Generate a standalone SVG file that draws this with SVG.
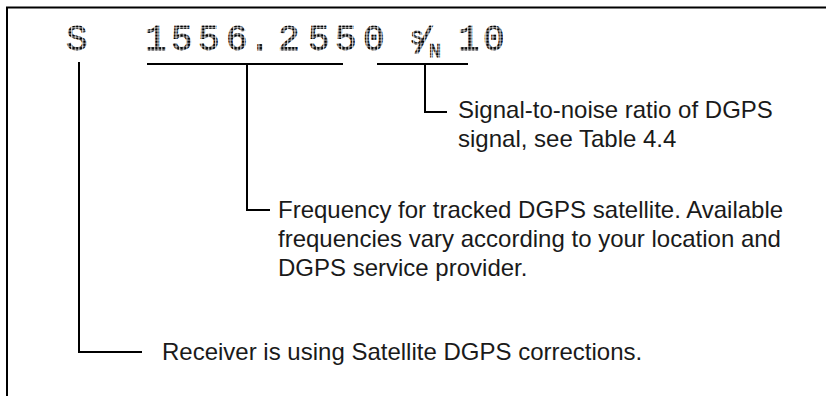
<svg xmlns="http://www.w3.org/2000/svg" width="826" height="396" viewBox="0 0 826 396">
  <defs>
    <!-- dot grid used to give the display readout its LCD dot-matrix look -->
    <pattern id="dots" patternUnits="userSpaceOnUse" width="3.6" height="3.1">
      <rect x="0.3" y="0.3" width="2.6" height="2.4" fill="#000"/>
    </pattern>
  </defs>
  <style>
    .frame { fill: none; stroke: #000; stroke-width: 2; }
    .lcd { font-family: "Liberation Mono", "DejaVu Sans Mono", monospace; font-size: 36px; fill: url(#dots); stroke: url(#dots); stroke-width: 0.8; }
    .lead { fill: none; stroke: #000; stroke-width: 2; }
    .note { font-family: "Liberation Sans", Arial, sans-serif; font-size: 24px; fill: #1a1a1a; }
  </style>

  <rect width="826" height="396" fill="#fff"/>
  <path class="frame" d="M7,396 V7.5 H826"/>

  <!-- receiver display readout -->
  <g id="readout">
    <text class="lcd" x="66" y="50">S</text>
    <text class="lcd" x="145 171 198 226 249 278 308 335 363" y="50">1556.2550</text>
    <text id="snr-symbol" class="lcd"><tspan x="411" y="44" font-size="20">S</tspan><tspan x="413" y="53">/</tspan><tspan x="429" y="57" font-size="20">N</tspan></text>
    <text class="lcd" x="458 483" y="50">10</text>
  </g>

  <!-- leader lines from the readout fields to their notes -->
  <g id="connectors">
    <path class="lead" d="M79,62 V352 H142"/>
    <path class="lead" d="M147,64 H343 M247,64 V210 H270"/>
    <path class="lead" d="M377,64 H468 M425,64 V112 H447"/>
  </g>

  <g id="note-snr">
    <text class="note" x="458" y="118">Signal-to-noise ratio of DGPS</text>
    <text class="note" x="458" y="147">signal, see Table 4.4</text>
  </g>

  <g id="note-frequency">
    <text class="note" x="278" y="218">Frequency for tracked DGPS satellite. Available</text>
    <text class="note" x="278" y="247">frequencies vary according to your location and</text>
    <text class="note" x="278" y="276">DGPS service provider.</text>
  </g>

  <g id="note-mode">
    <text class="note" x="162" y="360">Receiver is using Satellite DGPS corrections.</text>
  </g>
</svg>
